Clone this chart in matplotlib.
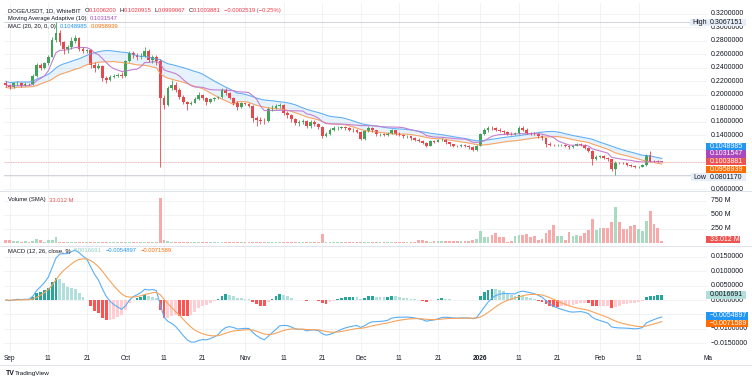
import numpy as np
import pandas as pd
import matplotlib
matplotlib.use("Agg")
import matplotlib.pyplot as plt
from matplotlib.patches import Rectangle
from matplotlib.transforms import Bbox, TransformedBbox, blended_transform_factory

plt.rcParams["font.family"] = ["Liberation Sans", "DejaVu Sans"]

# DOGE/USDT 1D WhiteBIT, 31 Aug 2025 .. 17 Feb 2026
start_date = "2025-08-31"
first_open = 0.2175
closes = [
    0.2140, 0.2110, 0.2165, 0.2170, 0.2130, 0.2160, 0.2150, 0.2280, 0.2430, 0.2400,
    0.2460, 0.2560, 0.2810, 0.2910, 0.2780, 0.2680, 0.2700, 0.2800, 0.2830, 0.2680,
    0.2650, 0.2655, 0.2440, 0.2400, 0.2420, 0.2240, 0.2220, 0.2260, 0.2280, 0.2290,
    0.2270, 0.2490, 0.2610, 0.2580, 0.2550, 0.2570, 0.2650, 0.2510, 0.2560, 0.2500,
    0.1950, 0.1850, 0.2100, 0.2140, 0.2070, 0.1970, 0.1890, 0.1860, 0.1880, 0.1940,
    0.1990, 0.1950, 0.1890, 0.1930, 0.1950, 0.1960, 0.2067, 0.2020, 0.1950, 0.1870,
    0.1820, 0.1870, 0.1860, 0.1830, 0.1650, 0.1620, 0.1610, 0.1605, 0.1790, 0.1800,
    0.1830, 0.1840, 0.1730, 0.1690, 0.1630, 0.1580, 0.1600, 0.1610, 0.1530, 0.1600,
    0.1560, 0.1520, 0.1390, 0.1410, 0.1480, 0.1500, 0.1510, 0.1512, 0.1500, 0.1480,
    0.1470, 0.1450, 0.1340, 0.1460, 0.1500, 0.1470, 0.1410, 0.1412, 0.1400, 0.1420,
    0.1470, 0.1420, 0.1400, 0.1380, 0.1381, 0.1350, 0.1330, 0.1310, 0.1280, 0.1240,
    0.1310, 0.1300, 0.1320, 0.1330, 0.1290, 0.1260, 0.1240, 0.1238, 0.1245, 0.1230,
    0.1220, 0.1180, 0.1240, 0.1415, 0.1470, 0.1510, 0.1505, 0.1480, 0.1460, 0.1440,
    0.1420, 0.1410, 0.1430, 0.1510, 0.1480, 0.1430, 0.1420, 0.1415, 0.1380, 0.1350,
    0.1270, 0.1250, 0.1248, 0.1252, 0.1255, 0.1240, 0.1220, 0.1240, 0.1260, 0.1255,
    0.1210, 0.1170, 0.1050, 0.1080, 0.1085, 0.1060, 0.1040, 0.0900, 0.0990, 0.0985,
    0.0980, 0.0960, 0.0940, 0.0920, 0.0930, 0.0950, 0.1100, 0.1015, 0.1008, 0.10064,
    0.1003881,
]
highs = [
    0.2195, 0.2160, 0.2185, 0.2200, 0.2190, 0.2180, 0.2175, 0.2300, 0.2460, 0.2470,
    0.2480, 0.2590, 0.2850, 0.3067151, 0.2960, 0.2800, 0.2740, 0.2850, 0.2880, 0.2850,
    0.2710, 0.2680, 0.2670, 0.2480, 0.2460, 0.2430, 0.2280, 0.2290, 0.2310, 0.2320,
    0.2330, 0.2510, 0.2640, 0.2650, 0.2610, 0.2610, 0.2700, 0.2680, 0.2580, 0.2590,
    0.2530, 0.1990, 0.2130, 0.2220, 0.2190, 0.2100, 0.1990, 0.1910, 0.1900, 0.1960,
    0.2030, 0.2010, 0.1970, 0.1950, 0.1970, 0.1980, 0.2090, 0.2100, 0.2040, 0.1970,
    0.1900, 0.1890, 0.1880, 0.1880, 0.1850, 0.1680, 0.1660, 0.1650, 0.1810, 0.1840,
    0.1860, 0.1880, 0.1860, 0.1750, 0.1710, 0.1650, 0.1620, 0.1640, 0.1620, 0.1620,
    0.1620, 0.1580, 0.1530, 0.1450, 0.1510, 0.1530, 0.1540, 0.1530, 0.1530, 0.1520,
    0.1500, 0.1490, 0.1460, 0.1480, 0.1530, 0.1520, 0.1480, 0.1430, 0.1430, 0.1440,
    0.1490, 0.1480, 0.1440, 0.1410, 0.1400, 0.1390, 0.1370, 0.1350, 0.1320, 0.1290,
    0.1330, 0.1320, 0.1340, 0.1350, 0.1340, 0.1300, 0.1270, 0.1255, 0.1260, 0.1260,
    0.1245, 0.1235, 0.1255, 0.1430, 0.1500, 0.1540, 0.1530, 0.1520, 0.1500, 0.1480,
    0.1460, 0.1440, 0.1450, 0.1530, 0.1530, 0.1500, 0.1450, 0.1440, 0.1430, 0.1400,
    0.1360, 0.1290, 0.1270, 0.1270, 0.1270, 0.1265, 0.1250, 0.1255, 0.1275, 0.1280,
    0.1265, 0.1220, 0.1180, 0.1100, 0.1110, 0.1100, 0.1080, 0.1050, 0.1010, 0.1005,
    0.1000, 0.0990, 0.0975, 0.0955, 0.0945, 0.0965, 0.1120, 0.1170, 0.1030, 0.1025,
    0.1020915,
]
lows = [
    0.2105, 0.2085, 0.2100, 0.2140, 0.2110, 0.2120, 0.2135, 0.2140, 0.2260, 0.2370,
    0.2380, 0.2440, 0.2550, 0.2780, 0.2740, 0.2600, 0.2620, 0.2680, 0.2770, 0.2650,
    0.2620, 0.2620, 0.2400, 0.2330, 0.2380, 0.2200, 0.2170, 0.2200, 0.2240, 0.2260,
    0.2250, 0.2260, 0.2480, 0.2540, 0.2510, 0.2530, 0.2550, 0.2480, 0.2470, 0.2440,
    0.0930, 0.1780, 0.1830, 0.2060, 0.2030, 0.1940, 0.1860, 0.1770, 0.1840, 0.1870,
    0.1920, 0.1920, 0.1840, 0.1870, 0.1900, 0.1930, 0.1950, 0.2000, 0.1930, 0.1840,
    0.1770, 0.1800, 0.1840, 0.1810, 0.1600, 0.1530, 0.1570, 0.1560, 0.1590, 0.1760,
    0.1780, 0.1800, 0.1700, 0.1650, 0.1600, 0.1550, 0.1540, 0.1570, 0.1500, 0.1510,
    0.1540, 0.1490, 0.1360, 0.1370, 0.1400, 0.1460, 0.1480, 0.1490, 0.1480, 0.1460,
    0.1450, 0.1430, 0.1320, 0.1330, 0.1440, 0.1450, 0.1390, 0.1390, 0.1380, 0.1390,
    0.1410, 0.1400, 0.1380, 0.1360, 0.1360, 0.1330, 0.1310, 0.1290, 0.1260, 0.1220,
    0.1230, 0.1280, 0.1290, 0.1310, 0.1270, 0.1240, 0.1220, 0.1225, 0.1225, 0.1215,
    0.1200, 0.1165, 0.1170, 0.1230, 0.1400, 0.1450, 0.1480, 0.1460, 0.1440, 0.1420,
    0.1400, 0.1395, 0.1395, 0.1420, 0.1460, 0.1410, 0.1400, 0.1400, 0.1360, 0.1330,
    0.1220, 0.1230, 0.1230, 0.1235, 0.1240, 0.1225, 0.1200, 0.1210, 0.1230, 0.1240,
    0.1190, 0.1150, 0.0960, 0.1030, 0.1060, 0.1040, 0.1020, 0.0870, 0.0801170, 0.0970,
    0.0965, 0.0945, 0.0925, 0.0905, 0.0910, 0.0920, 0.0945, 0.1000, 0.0995, 0.0995,
    0.0999067,
]
# volume in millions
volumes_m = [
    45, 60, 36, 36, 20, 36, 20, 36, 77, 45, 20, 45, 50, 107,
    18, 15, 12, 14, 16, 12, 10, 15, 18, 14, 12, 13, 12, 14, 16, 13, 14, 12, 15, 18,
    14, 16, 20, 22, 18, 25,
    800, 48, 36, 24,
    16, 14, 12, 15, 13, 12, 14, 11, 12, 13, 12, 14, 16, 12, 13, 12, 14, 15, 13, 12,
    14, 16, 13, 12, 14, 15, 18, 24, 20, 15, 14, 16, 18, 22, 24, 22, 20, 18,
    167,
    22, 18, 16, 14, 12, 13, 14, 12, 12, 16, 14, 13, 12, 11, 12, 12, 11, 12, 12, 11,
    10, 12, 12, 14,
    60,
    48, 36, 24, 32, 40, 30, 36, 32, 40, 42, 30, 36, 42, 48,
    80, 220, 110, 110, 150, 180, 110, 110, 20, 30, 130, 140, 150, 160, 110, 120, 60,
    80, 180, 240, 320, 120, 120, 60, 190, 130, 140, 120, 180, 240, 430, 230, 270, 260,
    270, 380, 640, 380, 250, 250, 310, 330, 250, 220, 400, 570, 340, 270, 33.012,
]

# values printed by TradingView in legends / price scale
last_ohlc = [0.1006200, 0.1020915, 0.0999067, 0.1003881]
last_change = -0.0002519
kama_last = 0.1031547
mac_last = [0.1048985, 0.0958939]
vol_last = 33.012
macd_last = [0.0016691, -0.0054897, -0.0071589]
high_mark = 0.3067151
low_mark = 0.0801170

# scale labels (the ones hidden behind value tags are left out)
price_ticks = [0.06, 0.14, 0.16, 0.18, 0.20, 0.22, 0.24, 0.26, 0.28, 0.30, 0.32]
vol_ticks = [250, 500, 750]
macd_ticks = [-0.015, -0.010, 0.0, 0.005, 0.010, 0.015]
grid_price = [0.06, 0.08, 0.10, 0.12, 0.14, 0.16, 0.18, 0.20, 0.22, 0.24, 0.26, 0.28, 0.30, 0.32]
grid_macd = [-0.015, -0.010, -0.005, 0.0, 0.005, 0.010, 0.015]
tick_dates = ["2025-09-01", "2025-09-11", "2025-09-21", "2025-10-01", "2025-10-11", "2025-10-21",
              "2025-11-01", "2025-11-11", "2025-11-21", "2025-12-01", "2025-12-11", "2025-12-21",
              "2026-01-01", "2026-01-11", "2026-01-21", "2026-02-01", "2026-02-11"]
tick_labels = ["Sep", "11", "21", "Oct", "11", "21", "Nov", "11", "21", "Dec", "11", "21",
               "2026", "11", "21", "Feb", "11"]

# colours
UP, DOWN = "#43a25a", "#e5484d"
VOL_UP, VOL_DN = "#a9dbc0", "#f6aaa9"
BLUE, ORANGE, PURPLE, RED = "#2196f3", "#ff6d00", "#ab47bc", "#ef5350"
TXT = "#131722"
GRID = "#eef0f4"
FS = 4.2
FS_AX = 5.0

# ---- frame ----
day0 = pd.Timestamp("2025-09-01")
dates = pd.date_range(start_date, periods=len(closes), freq="D")
xs = np.asarray((dates - day0).days, dtype=float)
tick_x = [(pd.Timestamp(d) - day0).days for d in tick_dates]

df = pd.DataFrame({"close": closes, "high": highs, "low": lows, "vol": volumes_m}, index=xs)
df["open"] = df["close"].shift(1).fillna(first_open)
is_up = df["close"] >= df["open"]
candle_col = np.where(is_up, UP, DOWN)
vol_col = np.where(is_up, VOL_UP, VOL_DN)

# indicators
mac_up = df["high"].rolling(20, min_periods=1).mean()
mac_lo = df["low"].rolling(20, min_periods=1).mean()

c = df["close"].values
fast, slow = 2 / 3, 2 / 31
kama = np.empty(len(c))
kama[0] = c[0]
for i in range(1, len(c)):
    j = max(0, i - 10)
    change = abs(c[i] - c[j])
    noise = np.abs(np.diff(c[j:i + 1])).sum()
    er = change / noise if noise > 0 else 0
    sc = (er * (fast - slow) + slow) ** 2
    kama[i] = kama[i - 1] + sc * (c[i] - kama[i - 1])

ema12 = df["close"].ewm(span=12, adjust=False).mean()
ema26 = df["close"].ewm(span=26, adjust=False).mean()
macd = ema12 - ema26
signal = macd.ewm(span=9, adjust=False).mean()
hist = macd - signal
prev = hist.shift(1).fillna(0)
hist_col = np.where(hist >= 0,
                    np.where(hist >= prev, "#26a69a", "#b2dfdb"),
                    np.where(hist < prev, "#ff5252", "#ffcdd2"))

# ---- layout in pixels ----
W, H = 752, 381
fig = plt.figure(figsize=(W / 100, H / 100), dpi=100)


def rect(l, t, r, b):
    return [l / W, 1 - b / H, (r - l) / W, (b - t) / H]


def px_to_price(y):
    return 0.10 + (162 - y) / 675


ax_p = fig.add_axes(rect(4, 3, 707, 190))
ax_v = fig.add_axes(rect(4, 191, 707, 246))
ax_m = fig.add_axes(rect(4, 246, 707, 352))

x_lo, x_hi = (4 - 9.7) / 3.858, (707 - 9.7) / 3.858
for ax in (ax_p, ax_v, ax_m):
    ax.set_xlim(x_lo, x_hi)
    ax.set_xticks(tick_x)
    ax.grid(True, color=GRID, lw=0.6)
    ax.set_axisbelow(True)
    ax.tick_params(length=0, labelleft=False, labelbottom=False)
    for s in ax.spines.values():
        s.set_visible(False)

ax_p.set_ylim(px_to_price(190), px_to_price(3))
ax_p.set_yticks(grid_price)
ax_v.set_ylim(-(246 - 243) * 250 / 14, (243 - 191) * 250 / 14)
ax_v.set_yticks(vol_ticks)
ax_m.set_ylim((300 - 352) / 2880, (300 - 246) / 2880)
ax_m.set_yticks(grid_macd)

# price pane
ax_p.fill_between(xs, mac_lo, mac_up, color=BLUE, alpha=0.11, lw=0)
ax_p.plot(xs, mac_up, color="#64b0f2", lw=0.8)
ax_p.plot(xs, mac_lo, color="#f9a463", lw=0.8)
ax_p.plot(xs, kama, color="#c47fd3", lw=0.8)
ax_p.axhline(high_mark, color="#c9ccd3", lw=0.6)
ax_p.axhline(low_mark, color="#c9ccd3", lw=0.6)
ax_p.axhline(last_ohlc[3], color="#f6a7a5", lw=0.6, ls=(0, (1, 1)))
ax_p.vlines(xs, df["low"], df["high"], colors=candle_col, lw=0.6)
body_lo = np.minimum(df["open"], df["close"])
body_h = np.maximum((df["close"] - df["open"]).abs(), 0.0006)
ax_p.bar(xs, body_h, bottom=body_lo, width=0.7, color=candle_col, lw=0)

# volume pane
ax_v.bar(xs, df["vol"], width=0.72, color=vol_col, lw=0)

# macd pane
ax_m.bar(xs, hist, width=0.72, color=hist_col, lw=0)
ax_m.plot(xs, macd, color="#5aaef5", lw=0.8)
ax_m.plot(xs, signal, color="#f7a35c", lw=0.8)

# time axis
ax_m.tick_params(axis="x", labelbottom=True, pad=2.2, labelsize=4.7, labelcolor=TXT)
ax_m.set_xticklabels(tick_labels)
for lab in ax_m.get_xticklabels():
    if lab.get_text() == "2026":
        lab.set_fontweight("bold")


def fmt(v):
    return f"{v:.7f}".replace("-", "\u2212")


# price-scale labels
ax_x = (711 - 4) / (707 - 4)
for ax, ticks, f in ((ax_p, price_ticks, fmt),
                     (ax_v, vol_ticks, lambda v: f"{v} M"),
                     (ax_m, macd_ticks, lambda v: fmt(abs(v)) if v == 0 else fmt(v))):
    tr = blended_transform_factory(ax.transAxes, ax.transData)
    for v in ticks:
        ax.text(ax_x, v, f(v), transform=tr, fontsize=FS_AX, color=TXT, va="center", ha="left")

# overlay in pixel coordinates
ov = fig.add_axes([0, 0, 1, 1])
ov.set_xlim(0, W)
ov.set_ylim(H, 0)
ov.axis("off")
ov.patch.set_alpha(0)

for y in (190.8, 246.0, 364.5):
    ov.plot([0, W], [y, y], color="#e0e3eb", lw=0.7)

# "Mar" on the time axis, cut at the price scale
mar = ov.text(709, 358.6, "Mar", fontsize=4.7, color=TXT, ha="center", va="center")
mar.set_clip_box(TransformedBbox(Bbox([[0, 0], [712 / W, 1]]), fig.transFigure))
mar.set_clip_on(True)


def tag(y, text, fc, tc, x0=706, x1=746, tx=710):
    ov.add_patch(Rectangle((x0, y - 3.8), x1 - x0, 7.6, fc=fc, ec="none"))
    ov.text(tx, y, text, color=tc, fontsize=FS_AX, va="center", ha="left")


LIGHT = "#e6edf7"
tag(22.3, "High", LIGHT, TXT, x0=690, x1=706, tx=692)
tag(22.3, fmt(high_mark), LIGHT, TXT)
tag(146.3, fmt(mac_last[0]), BLUE, "white")
tag(153.9, fmt(kama_last), PURPLE, "white")
tag(161.7, fmt(last_ohlc[3]), RED, "white")
tag(169.3, fmt(mac_last[1]), ORANGE, "white")
tag(177.2, "Low", LIGHT, TXT, x0=691, x1=706, tx=693)
tag(177.2, fmt(low_mark), LIGHT, TXT)
tag(239.3, f"{vol_last:.3f} M", RED, "white", x1=740)
tag(295.0, fmt(macd_last[0]), "#b2dfdb", TXT)
tag(315.7, fmt(macd_last[1]), BLUE, "white", x1=748)
tag(323.3, fmt(macd_last[2]), ORANGE, "white", x1=748)


def chain(x, y, parts):
    t = ov.text(x, y, parts[0][0], color=parts[0][1], fontsize=FS, va="center", ha="left")
    for txt, col, gap in parts[1:]:
        t = ov.annotate(txt, xy=(1, 0.5), xycoords=t, xytext=(gap, 0), textcoords="offset points",
                        color=col, fontsize=FS, va="center", ha="left")
    return t


pct = last_change / (last_ohlc[3] - last_change) * 100
chain(8, 10.3, [("DOGE/USDT, 1D, WhiteBIT", TXT, 0),
                ("O", TXT, 2.6), (fmt(last_ohlc[0]), "#f23645", 0),
                ("H", TXT, 2.2), (fmt(last_ohlc[1]), "#f23645", 0),
                ("L", TXT, 2.2), (fmt(last_ohlc[2]), "#f23645", 0),
                ("C", TXT, 2.2), (fmt(last_ohlc[3]), "#f23645", 0),
                (f"{fmt(last_change)} ({pct:.2f}%)".replace("-", "\u2212"), "#f23645", 2.6)])
chain(8, 18.6, [("Moving Average Adaptive (10)", TXT, 0), (fmt(kama_last), PURPLE, 2.6)])
chain(8, 26.8, [("MAC (20, 20, 0, 0)", TXT, 0), (fmt(mac_last[0]), BLUE, 2.6),
                (fmt(mac_last[1]), ORANGE, 2.6)])
chain(8, 200.0, [("Volume (SMA)", TXT, 0), (f"{vol_last:.3f} M", RED, 2.6)])
chain(8, 251.0, [("MACD (12, 26, close, 9)", TXT, 0), (fmt(macd_last[0]), "#8fd0c3", 2.6),
                 (fmt(macd_last[1]), BLUE, 2.6), (fmt(macd_last[2]), ORANGE, 2.6)])

# logo
ov.text(6, 373.5, "TV", fontsize=5.0, fontweight="bold", color=TXT, va="center", ha="left")
ov.text(14.5, 373.5, "TradingView", fontsize=4.6, color=TXT, va="center", ha="left")

fig.savefig("out.png", dpi=100, facecolor="white")
